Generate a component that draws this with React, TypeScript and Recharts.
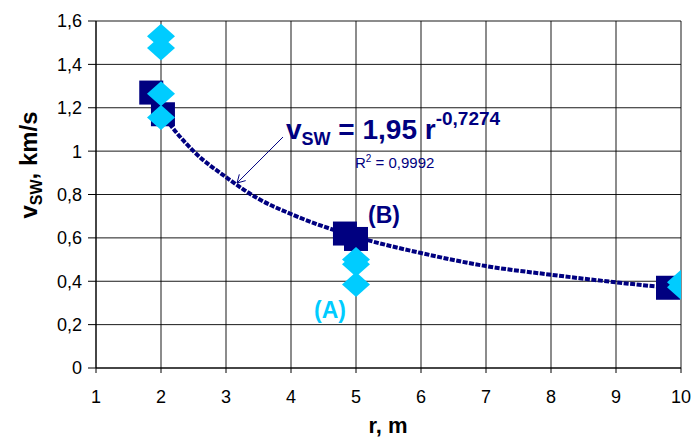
import React from 'react'
import {
  ComposedChart,
  Scatter,
  Line,
  XAxis,
  YAxis,
  CartesianGrid,
  ReferenceLine,
} from 'recharts'

// measured points, group (B) - squares
const rB = [1.85, 2.03, 4.83, 5.0, 9.8]
const vB = [1.27, 1.17, 0.62, 0.595, 0.37]

// measured points, group (A) - diamonds
const rA = [2, 2, 2, 2, 5, 5, 5, 10, 10]
const vA = [1.53, 1.475, 1.265, 1.155, 0.5, 0.478, 0.385, 0.395, 0.372]

// power trendline
const rTrend = [1.85, 2, 2.5, 3, 3.5, 4, 5, 6, 7, 8, 9, 10]
const vTrend = [1.25, 1.18, 1.0, 0.88, 0.78, 0.71, 0.605, 0.53, 0.47, 0.43, 0.395, 0.365]

const xTicks = [1, 2, 3, 4, 5, 6, 7, 8, 9, 10]
const yTicks = [0, 0.2, 0.4, 0.6, 0.8, 1, 1.2, 1.4, 1.6]

const NAVY = '#000080'
const CYAN = '#00CCFF'
const FONT = '"Liberation Sans", Arial, sans-serif'

const dataB = rB.map((r, i) => ({ r, v: vB[i] }))
const dataA = rA.map((r, i) => ({ r, v: vA[i] }))
const trend = rTrend.map((r, i) => ({ r, v: vTrend[i] }))

const Square = (p: any) => (
  <rect x={p.cx - 12} y={p.cy - 12} width={24} height={24} fill={NAVY} />
)

const Diamond = (p: any) => (
  <polygon
    points={`${p.cx},${p.cy - 12.5} ${p.cx + 14},${p.cy} ${p.cx},${p.cy + 12.5} ${p.cx - 14},${p.cy}`}
    fill={CYAN}
  />
)

const fmt = (v: number) => String(v).replace('.', ',')

export default function App() {
  return (
    <div style={{ position: 'fixed', left: 0, top: 0, width: 691, height: 439, background: '#fff', fontFamily: FONT }}>
      <ComposedChart
        width={691}
        height={439}
        margin={{ top: 21, right: 10, bottom: 0, left: 0 }}
      >
        <CartesianGrid stroke="#000" strokeOpacity={0.9} />
        <XAxis
          type="number"
          dataKey="r"
          domain={[1, 10]}
          ticks={xTicks}
          interval={0}
          allowDataOverflow
          height={71}
          stroke="#000"
          tickSize={5}
          tickMargin={17}
          tick={{ fill: '#000', fontSize: 18, fontFamily: FONT }}
        />
        <YAxis
          type="number"
          dataKey="v"
          domain={[0, 1.6]}
          ticks={yTicks}
          interval={0}
          allowDataOverflow
          width={96}
          stroke="#000"
          tickSize={8}
          tickMargin={6}
          tickFormatter={fmt}
          tick={{ fill: '#000', fontSize: 18, fontFamily: FONT }}
        />
        <Scatter data={dataB} dataKey="v" shape={Square} isAnimationActive={false} />
        <Scatter data={dataA} dataKey="v" shape={Diamond} isAnimationActive={false} />
        <Line
          data={trend}
          dataKey="v"
          type="monotone"
          stroke={NAVY}
          strokeWidth={4}
          strokeDasharray="5 1.5"
          dot={false}
          activeDot={false}
          isAnimationActive={false}
        />
        <ReferenceLine segment={[{ x: 3.877, y: 1.065 }, { x: 3.17, y: 0.853 }]} stroke={NAVY} strokeWidth={1} />
        <ReferenceLine segment={[{ x: 3.303, y: 0.864 }, { x: 3.17, y: 0.853 }]} stroke={NAVY} strokeWidth={1} />
        <ReferenceLine segment={[{ x: 3.205, y: 0.893 }, { x: 3.17, y: 0.853 }]} stroke={NAVY} strokeWidth={1} />
      </ComposedChart>
      <svg
        width={691}
        height={439}
        style={{ position: 'absolute', left: 0, top: 0, pointerEvents: 'none' }}
        fontFamily={FONT}
      >
        <text x={286} y={139} fill={NAVY} fontWeight="bold" fontSize={28}>
          v<tspan fontSize={18} dy={6}>SW</tspan>
          <tspan dy={-6}> = 1,95 r</tspan>
          <tspan fontSize={19} dy={-14}>-0,7274</tspan>
        </text>
        <text x={355} y={168} fill={NAVY} fontSize={15}>
          R<tspan fontSize={10} dy={-6}>2</tspan>
          <tspan dy={6}> = 0,9992</tspan>
        </text>
        <text x={368} y={223} fill={NAVY} fontWeight="bold" fontSize={23}>(B)</text>
        <text x={314} y={318} fill={CYAN} fontWeight="bold" fontSize={23}>(A)</text>
        <text x={388} y={433} textAnchor="middle" fill="#000" fontWeight="bold" fontSize={22}>r, m</text>
        <text transform="translate(37,165) rotate(-90)" textAnchor="middle" fill="#000" fontWeight="bold" fontSize={24}>
          v<tspan fontSize={16} dy={5}>SW</tspan>
          <tspan dy={-5}>, km/s</tspan>
        </text>
      </svg>
    </div>
  )
}
